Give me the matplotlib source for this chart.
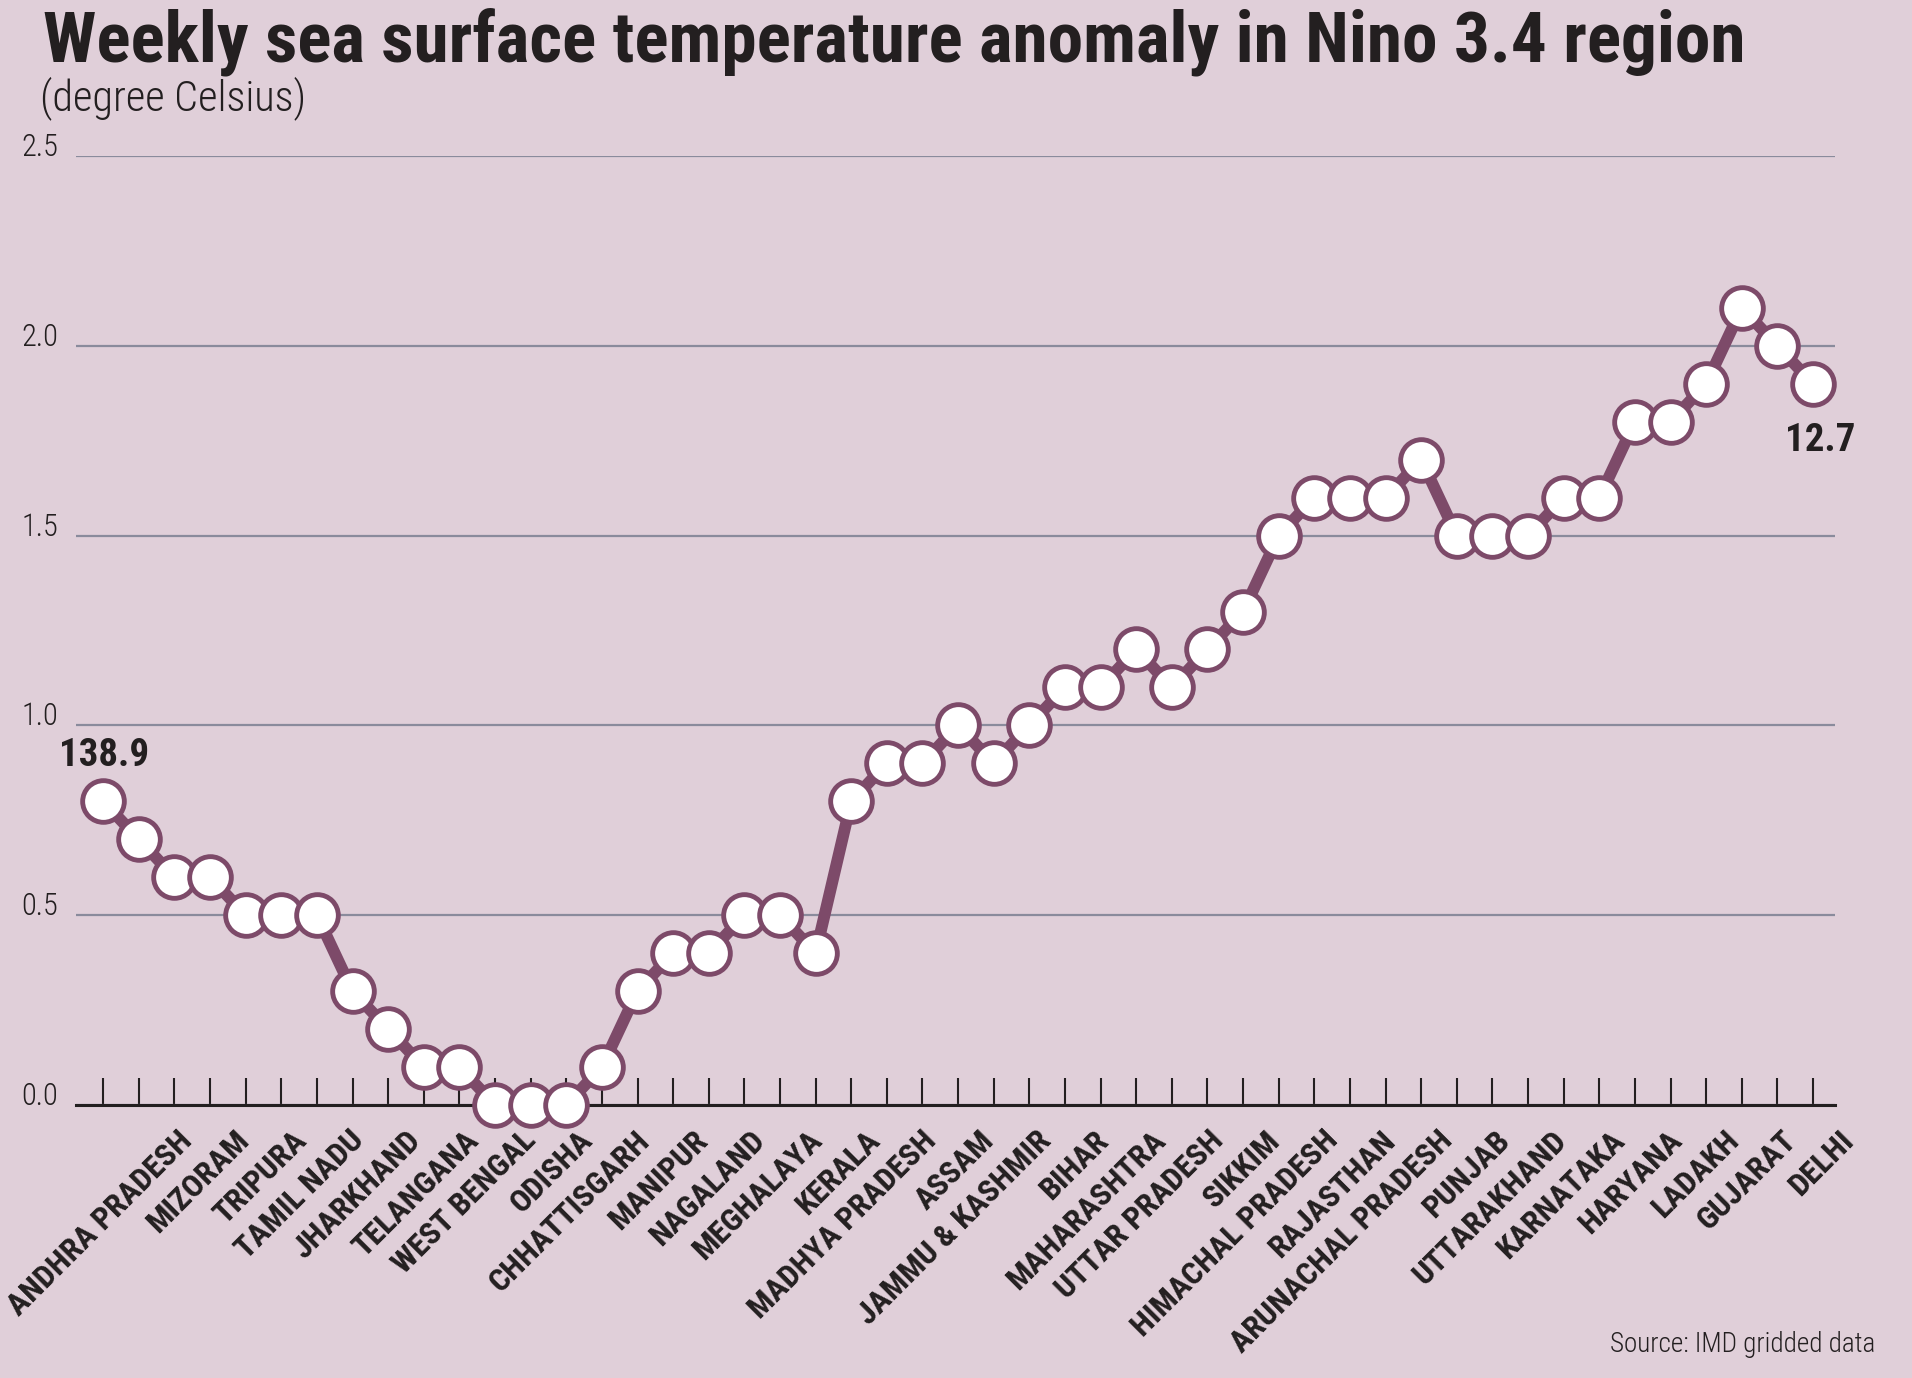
import numpy as np
from matplotlib import pyplot as plt

# weekly anomaly values (degree Celsius)
anomaly = [0.8, 0.7, 0.6, 0.6, 0.5, 0.5, 0.5, 0.3, 0.2, 0.1, 0.1, 0.0, 0.0, 0.0,
           0.1, 0.3, 0.4, 0.4, 0.5, 0.5, 0.4, 0.8, 0.9, 0.9, 1.0, 0.9, 1.0, 1.1,
           1.1, 1.2, 1.1, 1.2, 1.3, 1.5, 1.6, 1.6, 1.6, 1.7, 1.5, 1.5, 1.5, 1.6,
           1.6, 1.8, 1.8, 1.9, 2.1, 2.0, 1.9]

states = ["ANDHRA PRADESH", "MIZORAM", "TRIPURA", "TAMIL NADU", "JHARKHAND",
          "TELANGANA", "WEST BENGAL", "ODISHA", "CHHATTISGARH", "MANIPUR",
          "NAGALAND", "MEGHALAYA", "KERALA", "MADHYA PRADESH", "ASSAM",
          "JAMMU & KASHMIR", "BIHAR", "MAHARASHTRA", "UTTAR PRADESH", "SIKKIM",
          "HIMACHAL PRADESH", "RAJASTHAN", "ARUNACHAL PRADESH", "PUNJAB",
          "UTTARAKHAND", "KARNATAKA", "HARYANA", "LADAKH", "GUJARAT", "DELHI"]

y_ticks = [0.0, 0.5, 1.0, 1.5, 2.0, 2.5]
first_label, last_label = "138.9", "12.7"

BG = "#e0cfd9"
LINE = "#7d4a69"
GRID = "#8a8b9c"
INK = "#231f20"

plt.rcParams['font.family'] = ["Roboto Condensed", "DejaVu Sans"]


def main():
    fig = plt.figure(figsize=(19.12, 13.78), dpi=100, facecolor=BG)
    ax = fig.add_axes([0.0398, 0.1981, 0.92, 0.6887])
    ax.set_facecolor(BG)

    x = np.arange(len(anomaly))
    ax.set_xlim(-0.76, len(anomaly) - 1 + 0.62)
    ax.set_ylim(0, 2.5)

    # grid lines and baseline
    ax.set_yticks(y_ticks)
    ax.set_yticklabels([f"{v:.1f}" for v in y_ticks])
    ax.grid(axis="y", color=GRID, linewidth=1.6)
    ax.set_axisbelow(True)
    for s in ["top", "right", "left"]:
        ax.spines[s].set_visible(False)
    ax.spines["bottom"].set_color(INK)
    ax.spines["bottom"].set_linewidth(2.2)
    ax.spines["bottom"].set_zorder(2.5)
    ax.tick_params(axis="y", length=0, pad=13, labelsize=22, labelcolor=INK)
    for lab in ax.get_yticklabels():
        lab.set_verticalalignment("baseline")
        lab.set_fontweight("light")
    ax.set_xticks(x)
    ax.set_xticklabels([])
    ax.tick_params(axis="x", direction="in", length=19.5, width=1.5, color=INK)

    # the line with white circles
    ax.plot(x, anomaly, color=LINE, linewidth=8.5, marker="o", markersize=30,
            markerfacecolor="white", markeredgecolor=LINE, markeredgewidth=3.5,
            clip_on=False, zorder=3)

    # state names under the axis (spaced on their own)
    label_pos = np.linspace(2.05, 48.7, len(states))
    trans = ax.get_xaxis_transform()
    for name, px in zip(states, label_pos):
        ax.text(px, -0.021, name, transform=trans, rotation=45,
                rotation_mode="anchor", ha="right", va="top",
                fontsize=23, fontweight="bold", color=INK)

    ax.annotate(first_label, (x[0], anomaly[0]), xytext=(1, 33),
                textcoords="offset points", ha="center", va="center",
                fontsize=28, fontweight="bold", color=INK)
    ax.annotate(last_label, (x[-1], anomaly[-1]), xytext=(5, -41),
                textcoords="offset points", ha="center", va="center",
                fontsize=28, fontweight="bold", color=INK)

    fig.text(43 / 1912, 1 - 61 / 1378,
             "Weekly sea surface temperature anomaly in Nino 3.4 region",
             fontsize=51.3, fontweight="bold", color=INK, va="baseline")
    fig.text(40 / 1912, 1 - 110 / 1378, "(degree Celsius)",
             fontsize=30.5, fontweight="light", color=INK, va="baseline")
    fig.text(1875 / 1912, 1 - 1345 / 1378, "Source: IMD gridded data",
             fontsize=19.5, fontweight="light", color=INK, ha="right", va="center")

    fig.savefig("out.png", dpi=100, facecolor=BG)


if __name__ == "__main__":
    main()
